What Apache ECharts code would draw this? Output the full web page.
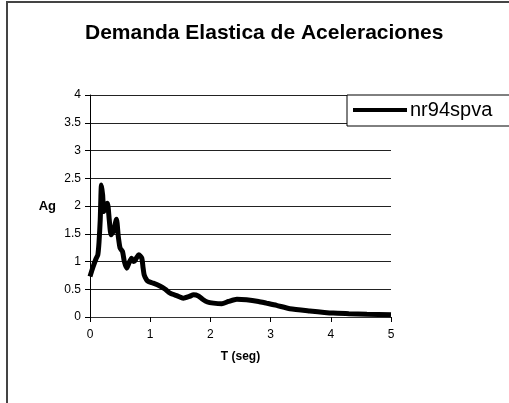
<!DOCTYPE html>
<html>
<head>
<meta charset="utf-8">
<script src="https://cdn.jsdelivr.net/npm/echarts@6/dist/echarts.min.js"></script>
<style>
  html, body { margin: 0; padding: 0; background: #fff; }
  #chart { width: 509px; height: 403px; }
</style>
</head>
<body>
<div id="chart"></div>
<script>
// periodo (s) y aceleracion espectral (g)
const periods = [0, 0.05, 0.1, 0.13, 0.15, 0.17, 0.19, 0.21, 0.23, 0.26, 0.29, 0.32, 0.35, 0.39, 0.44, 0.47,
  0.5, 0.54, 0.57, 0.61, 0.65, 0.69, 0.72, 0.75, 0.78, 0.81, 0.86, 0.88, 0.9, 0.94, 0.97, 1.05, 1.16,
  1.25, 1.33, 1.45, 1.55, 1.65, 1.72, 1.8, 1.87, 1.95, 2.05, 2.19, 2.3, 2.44, 2.6, 2.8, 2.93, 3.1,
  3.32, 3.65, 4.04, 4.3, 4.6, 5.0]
const accel = [0.73, 0.9, 1.05, 1.12, 1.35, 1.75, 2.38, 2.2, 1.9, 2.0, 2.05, 1.75, 1.48, 1.55, 1.76, 1.45,
  1.24, 1.18, 1.0, 0.88, 0.98, 1.06, 1.0, 1.02, 1.08, 1.12, 1.06, 0.9, 0.76, 0.67, 0.64, 0.61, 0.56,
  0.5, 0.43, 0.38, 0.34, 0.37, 0.4, 0.38, 0.32, 0.27, 0.25, 0.24, 0.28, 0.32, 0.31, 0.28, 0.25, 0.21,
  0.15, 0.11, 0.07, 0.06, 0.05, 0.04]
const seriesName = 'nr94spva'

const chart = echarts.init(document.getElementById('chart'))
const font = 'Liberation Sans, Arial, sans-serif'

chart.setOption({
  animation: false,
  textStyle: { fontFamily: font },
  title: {
    text: 'Demanda Elastica de Aceleraciones',
    left: 80,
    top: 18,
    textStyle: { fontSize: 21, fontWeight: 'bold', color: '#000', fontFamily: font }
  },
  graphic: [{
    type: 'rect',
    shape: { x: 7, y: 2, width: 600, height: 500 },
    style: { fill: null, stroke: '#444', lineWidth: 2 },
    silent: true
  }],
  legend: {
    left: 347,
    top: 95,
    orient: 'vertical',
    data: [{ name: seriesName, icon: 'rect' }],
    itemWidth: 54,
    itemHeight: 4,
    itemGap: 4,
    padding: [5, 45, 6, 6],
    borderColor: '#000',
    borderWidth: 1,
    backgroundColor: '#fff',
    textStyle: { fontSize: 20, color: '#000', fontFamily: font, padding: [0, 0, 0, -2] }
  },
  grid: { left: 90, right: 118, top: 95, bottom: 86 },
  xAxis: {
    type: 'value',
    min: 0,
    max: 5,
    interval: 1,
    name: 'T (seg)',
    nameLocation: 'middle',
    nameGap: 34,
    nameTextStyle: { fontWeight: 'bold', fontSize: 12, color: '#000' },
    axisLine: { lineStyle: { color: '#333', width: 1 } },
    axisTick: { show: true, inside: false, length: 5, lineStyle: { color: '#000' } },
    axisLabel: { fontSize: 12, color: '#000', margin: 12 },
    splitLine: { show: false }
  },
  yAxis: {
    type: 'value',
    min: 0,
    max: 4,
    interval: 0.5,
    name: 'Ag',
    nameLocation: 'middle',
    nameRotate: 0,
    nameGap: 34,
    nameTextStyle: { fontWeight: 'bold', fontSize: 13, color: '#000' },
    axisLine: { show: true, lineStyle: { color: '#000', width: 1 } },
    axisTick: { show: true, inside: false, length: 5, lineStyle: { color: '#000' } },
    axisLabel: { fontSize: 12, color: '#000', margin: 9 },
    splitLine: { show: true, lineStyle: { color: '#222', width: 1 } }
  },
  series: [{
    name: seriesName,
    type: 'line',
    data: periods.map((t, i) => [t, accel[i]]),
    showSymbol: false,
    symbol: 'none',
    smooth: 0.2,
    itemStyle: { color: '#000' },
    lineStyle: { color: '#000', width: 5 }
  }]
})
</script>
</body>
</html>
